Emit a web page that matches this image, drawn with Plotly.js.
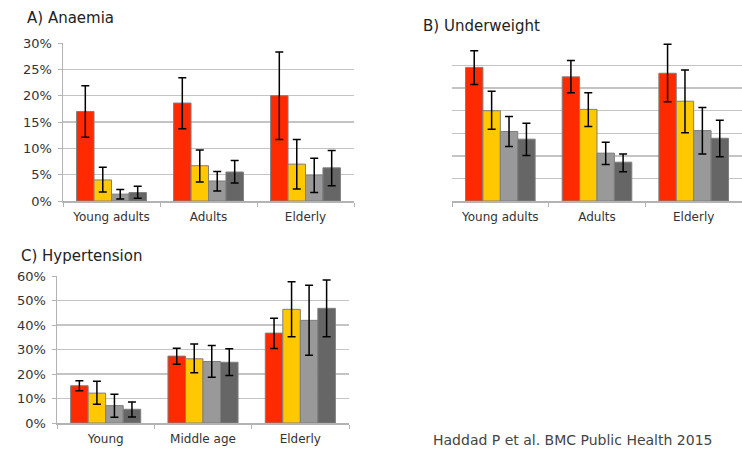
<!DOCTYPE html>
<html>
<head>
<meta charset="utf-8">
<script src="https://cdn.plot.ly/plotly-3.0.1.min.js"></script>
<style>
  html, body { margin: 0; padding: 0; background: #fff; }
  #chart { width: 742px; height: 449px; }
</style>
</head>
<body>
<div id="chart"></div>
<script>
// Prevalence (%) by age group, four groups per panel, with 95% CI bounds
const anaemiaCats = ['Young adults', 'Adults', 'Elderly'];
const anaemiaVals = [
  [17.0, 18.6, 20.0],
  [4.0, 6.7, 7.0],
  [1.3, 3.8, 4.9],
  [1.6, 5.5, 6.3]
];
const anaemiaHi = [
  [21.9, 23.4, 28.3],
  [6.4, 9.7, 11.7],
  [2.2, 5.6, 8.1],
  [2.8, 7.7, 9.6]
];
const anaemiaLo = [
  [12.1, 13.7, 11.7],
  [1.7, 3.6, 2.3],
  [0.4, 1.9, 1.6],
  [0.5, 3.4, 2.9]
];

const underweightCats = ['Young adults', 'Adults', 'Elderly'];
const underweightVals = [
  [29.6, 27.5, 28.3],
  [20.0, 20.3, 22.1],
  [15.4, 10.6, 15.6],
  [13.7, 8.6, 13.9]
];
const underweightHi = [
  [33.3, 31.1, 34.7],
  [24.3, 24.0, 29.0],
  [18.7, 13.0, 20.7],
  [17.2, 10.4, 17.9]
];
const underweightLo = [
  [25.8, 24.0, 22.0],
  [15.9, 16.5, 15.1],
  [12.1, 8.1, 10.4],
  [10.1, 6.5, 9.8]
];

const hypertensionCats = ['Young', 'Middle age', 'Elderly'];
const hypertensionVals = [
  [15.2, 27.3, 36.7],
  [12.2, 26.2, 46.4],
  [7.1, 25.1, 41.9],
  [5.6, 24.8, 46.8]
];
const hypertensionHi = [
  [17.2, 30.5, 42.8],
  [17.0, 32.2, 57.7],
  [11.7, 31.6, 56.2],
  [8.6, 30.3, 58.4]
];
const hypertensionLo = [
  [13.2, 24.0, 30.4],
  [7.7, 20.5, 35.2],
  [2.3, 18.7, 27.7],
  [2.4, 19.4, 35.2]
];

const sourceNote = 'Haddad P et al. BMC Public Health 2015';

const seriesColors = ['#ff2a00', '#ffc800', '#999999', '#666666'];

const W = 742, H = 449;
const px = v => v / W;
const py = v => 1 - v / H;

function panelTraces(cats, vals, hi, lo, xa, ya) {
  return vals.map((v, i) => ({
    type: 'bar',
    x: cats,
    y: v,
    xaxis: xa,
    yaxis: ya,
    showlegend: false,
    hoverinfo: 'skip',
    marker: { color: seriesColors[i], line: { color: '#7f7f7f', width: 1 } },
    error_y: {
      type: 'data',
      symmetric: false,
      array: v.map((y, k) => hi[i][k] - y),
      arrayminus: v.map((y, k) => y - lo[i][k]),
      color: '#000',
      thickness: 1.5,
      width: 4
    }
  }));
}

const traces = [
  ...panelTraces(anaemiaCats, anaemiaVals, anaemiaHi, anaemiaLo, 'x', 'y'),
  ...panelTraces(underweightCats, underweightVals, underweightHi, underweightLo, 'x2', 'y2'),
  ...panelTraces(hypertensionCats, hypertensionVals, hypertensionHi, hypertensionLo, 'x3', 'y3')
];

const tickFont = { family: 'DejaVu Sans, Verdana, sans-serif', size: 12, color: '#333' };

function xAxis(domain, anchor) {
  return {
    domain: domain, anchor: anchor,
    type: 'category',
    showline: true, linecolor: '#b3b3b3', linewidth: 1.5,
    ticks: 'outside', tickson: 'boundaries', ticklen: 4, tickcolor: '#b3b3b3', tickwidth: 1,
    ticklabelstandoff: 4,
    showgrid: false, zeroline: false,
    tickfont: tickFont, fixedrange: true
  };
}

function yAxis(domain, anchor, range, dtick, showLabels) {
  return {
    domain: domain, anchor: anchor,
    range: range, dtick: dtick, tick0: 0,
    ticksuffix: '%',
    showticklabels: showLabels,
    showline: showLabels, linecolor: '#b3b3b3', linewidth: 1.5,
    ticks: showLabels ? 'outside' : '', ticklen: 4, tickcolor: '#b3b3b3',
    ticklabelstandoff: 3,
    showgrid: true, gridcolor: '#c4c4c4', gridwidth: 1.5,
    zeroline: false,
    tickfont: Object.assign({}, tickFont, { size: 13 }),
    fixedrange: true
  };
}

const titleFont = { family: 'DejaVu Sans, Verdana, sans-serif', size: 15, color: '#222' };

const layout = {
  width: W, height: H,
  margin: { l: 0, r: 0, t: 0, b: 0 },
  paper_bgcolor: '#fff', plot_bgcolor: '#fff',
  barmode: 'group', bargap: 0.28, bargroupgap: 0,
  xaxis: xAxis([px(63), px(354)], 'y'),
  yaxis: yAxis([py(201), py(43)], 'x', [0, 30], 5, true),
  xaxis2: xAxis([px(452), 1], 'y2'),
  yaxis2: yAxis([py(201), py(43)], 'x2', [0, 35], 5, false),
  xaxis3: xAxis([px(57), px(349)], 'y3'),
  yaxis3: yAxis([py(423), py(276)], 'x3', [0, 60], 10, true),
  annotations: [
    { text: 'A) Anaemia', xref: 'paper', yref: 'paper', x: px(25), y: py(18),
      xanchor: 'left', yanchor: 'middle', showarrow: false, font: titleFont },
    { text: 'B) Underweight', xref: 'paper', yref: 'paper', x: px(421), y: py(26),
      xanchor: 'left', yanchor: 'middle', showarrow: false, font: titleFont },
    { text: 'C) Hypertension', xref: 'paper', yref: 'paper', x: px(19), y: py(256),
      xanchor: 'left', yanchor: 'middle', showarrow: false, font: titleFont },
    { text: sourceNote, xref: 'paper', yref: 'paper',
      x: px(432), y: py(449), xanchor: 'left', yanchor: 'bottom', showarrow: false,
      borderpad: 0,
      font: { family: 'DejaVu Sans, Verdana, sans-serif', size: 14, color: '#444' } }
  ]
};

Plotly.newPlot('chart', traces, layout, { staticPlot: true, displayModeBar: false });
</script>
</body>
</html>
